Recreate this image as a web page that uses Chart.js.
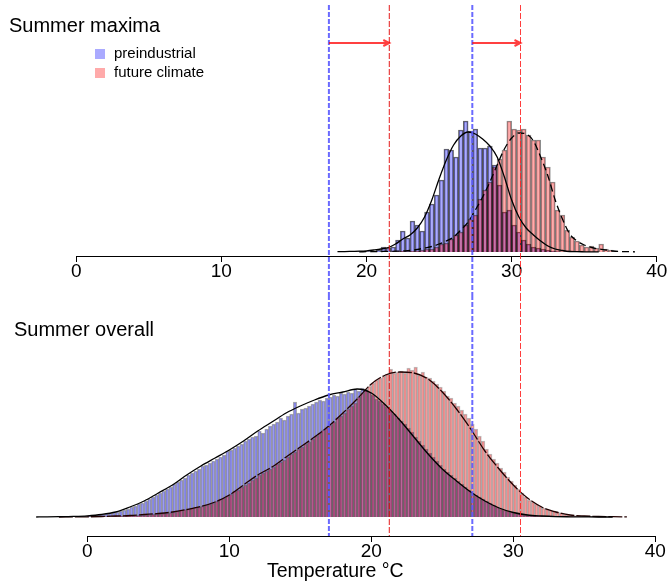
<!DOCTYPE html>
<html>
<head>
<meta charset="utf-8">
<script src="https://cdn.jsdelivr.net/npm/chart.js@4.4.1/dist/chart.umd.min.js"></script>
<style>
  body { margin: 0; background: #fff; }
  #wrap { position: relative; width: 669px; height: 587px; overflow: hidden; font-family: "Liberation Sans", Arial, Helvetica, sans-serif; color: #000; }
  canvas { position: absolute; left: 0; }
  #maxima { top: 0; }
  #overall { top: 295px; }
  .panel-title { position: absolute; font-size: 20px; line-height: 20px; white-space: nowrap; }
  .key { position: absolute; left: 95px; font-size: 15px; line-height: 15px; white-space: nowrap; }
  .key i { display: inline-block; width: 10px; height: 10px; margin-right: 9px; vertical-align: -1px; }
</style>
</head>
<body>
<div id="wrap">
  <canvas id="maxima" width="669" height="295"></canvas>
  <canvas id="overall" width="669" height="292"></canvas>
  <div class="panel-title" style="left:9px;top:15px">Summer maxima</div>
  <div class="panel-title" style="left:14px;top:319px">Summer overall</div>
  <div class="key" style="top:45px"><i style="background:#aaaaff"></i>preindustrial</div>
  <div class="key" style="top:63.5px"><i style="background:#ffaaaa"></i>future climate</div>
</div>
<script>
// --- histogram breaks (°C) ---
const maximaBinStart = 18
const maximaBinWidth = 1 / 3
const overallBinStart = 0
const overallBinWidth = 0.25

// --- summer maxima, bar heights per bin ---
const maximaPre = [
  0, 0, 0.5, 0.7, 0.5, 0.7, 0.3, 0.5, 2, 5,
  4, 5, 12, 21, 14, 31, 27, 21, 40, 48,
  57, 72, 103, 102, 95, 122, 131, 121, 123, 104,
  104, 106, 87, 67, 40, 42, 27, 20, 12, 8,
  5, 4, 3, 2, 1, 0.5, 0, 0, 0, 0,
  0, 0, 0, 0, 0, 0, 0, 0
]
const maximaFuture = [
  0, 0, 0, 0, 0, 0, 0, 0, 0, 0.5,
  0, 0.5, 0.5, 0.7, 0.5, 1, 1, 2, 3, 3,
  5, 8, 9, 13, 17, 20, 27, 33, 37, 53,
  62, 70, 85, 93, 102, 131, 123, 122, 123, 117,
  112, 112, 95, 85, 70, 42, 37, 22, 15, 11,
  7, 5, 6, 4, 8, 3, 2, 1
]

// --- summer overall, bar heights per bin ---
const overallPre = [
  1, 1.5, 2, 2.5, 3, 3.5, 4, 4.5, 5, 6, 7, 8,
  10, 11, 13, 14, 16, 18, 20, 22, 24, 26, 28, 30,
  33, 35, 37, 39, 42, 44, 46, 48, 51, 52, 54, 56,
  58, 60, 62, 66, 67, 69, 71, 73, 76, 78, 80, 81,
  86, 84, 88, 91, 93, 95, 99, 97, 101, 103, 115, 104,
  108, 109, 111, 113, 115, 117, 116, 119, 120, 122, 121, 124,
  123, 125, 124, 128, 126, 129, 127, 125, 122, 118, 116, 113,
  110, 106, 103, 99, 96, 93, 89, 85, 80, 76, 72, 68,
  64, 60, 56, 52, 48, 45, 42, 39, 36, 33, 30, 27,
  24, 22, 20, 18, 16, 14, 12, 10, 8, 7, 6, 5,
  4, 3.5, 3, 2.5, 2, 1.5, 1.2, 1, 0.8, 0.6, 0.5, 0.4,
  0.3, 0.2, 0.2, 0.1, 0.1, 0.1, 0, 0, 0, 0, 0, 0,
  0, 0, 0, 0
]
const overallFuture = [
  0.2, 0.2, 0.3, 0.3, 0.4, 0.5, 0.5, 0.6, 0.8, 0.9, 1, 1.2,
  1.4, 1.5, 1.7, 2, 2.3, 2.5, 2.8, 3, 3.3, 3.6, 4, 4.4,
  5, 6, 7, 7.5, 8, 9, 9.5, 10, 11, 12, 13, 14,
  16, 18, 19, 21, 23, 26, 27, 30, 32, 34, 37, 39,
  42, 44, 46, 48, 50, 53, 55, 57, 60, 63, 65, 68,
  70, 73, 75, 78, 81, 84, 87, 89, 92, 95, 99, 101,
  104, 108, 111, 114, 120, 124, 128, 131, 134, 137, 139, 141,
  143, 148, 144, 145, 146, 144, 149, 147, 150, 142, 145, 140,
  139, 136, 133, 130, 126, 121, 119, 114, 111, 107, 103, 99,
  93, 88, 81, 76, 68, 63, 58, 54, 49, 45, 40, 36,
  32, 28, 24, 20, 17, 15, 13, 11, 9, 8, 7, 6,
  5, 4, 3, 2.5, 2, 1.5, 1.2, 1, 0.8, 0.6, 0.5, 0.4,
  0.3, 0.3, 0.2, 0.2
]

// --- density curves ---
const maximaCurveTemps = [
  18, 18.5, 19, 19.5, 20, 20.5, 21, 21.5, 22, 22.5, 23, 23.5, 24, 24.5,
  25, 25.5, 26, 26.5, 27, 27.5, 28, 28.5, 29, 29.5, 30, 30.5, 31, 31.5,
  32, 32.5, 33, 33.5, 34, 34.5, 35, 35.5, 36, 36.5, 37, 37.5, 38, 38.5
]
const maximaPreCurve = [
  0.3, 0.4, 0.6, 0.8, 1.2, 2, 3, 4.5, 8, 13, 17, 24, 35, 52,
  73, 92, 107, 116, 120, 118, 113, 106, 95, 75, 52, 35, 24, 17,
  11, 6, 3, 1.5, 0.5, 0.3, 0.2, 0.1, 0.1, null, null, null, null, null
]
const maximaFutureCurve = [
  null, null, null, 0.2, 0.3, 0.4, 0.5, 0.6, 0.8, 1.1, 1.5, 2.5, 4, 5.5,
  8, 11, 15, 22, 30, 42, 55, 70, 87, 103, 114, 119, 118, 111,
  95, 76, 52, 33, 18, 11, 7, 4.5, 3, 2, 1, 0.5, 0.3, 0.2
]
const overallCurveTemps = [
  -3.6, -3, -2, -1, 0, 1, 2, 3, 4, 5, 6, 7, 8, 9, 10, 11, 12, 13, 14, 15, 16,
  17, 18, 19, 20, 21, 22, 23, 24, 25, 26, 27, 28, 29, 30, 31, 32, 33, 34, 35, 36, 37, 38
]
const overallPreCurve = [
  0, 0.1, 0.3, 0.6, 1.2, 2.5, 5, 10, 16, 24, 32, 42, 51, 59, 67, 76, 86, 95, 104, 111, 117,
  122, 125, 128, 124, 112, 97, 80, 63, 48, 36, 25, 16, 9, 4.5, 2, 1, 0.4, 0.2, 0.1, 0, 0, null
]
const overallFutureCurve = [
  null, null, 0, 0.1, 0.2, 0.5, 1, 1.5, 2.5, 3.5, 5, 7.5, 10.5, 15, 22, 32, 42, 50, 60, 70, 80,
  91, 104, 118, 133, 142, 145, 144, 138, 125, 108, 88, 66, 48, 32, 19, 10, 5, 2, 1, 0.5, 0.3, 0.1
]

// --- axis and reference lines ---
const tickValues = [0, 10, 20, 30, 40]
const markerTemps = [17.41, 21.57, 27.29, 30.61]
const shiftStarts = [17.41, 27.29]
const shiftEnds = [21.57, 30.61]
const arrowLevel = 209

const markerColours = ['rgba(90,90,255,0.9)', 'rgba(225,0,0,0.9)', 'rgba(90,90,255,0.9)', 'rgba(255,40,40,0.9)']
const markerWidths = [2, 1, 2, 1]

Chart.defaults.font.family = '"Liberation Sans", Arial, Helvetica, sans-serif'
Chart.defaults.color = '#000'

const binPoints = (start, width, heights) =>
  heights.map((h, i) => ({ x: start + (i + 0.5) * width, y: h }))
const curvePoints = (temps, values) =>
  temps.map((t, i) => ({ x: t, y: values[i] })).filter(p => p.y !== null)

const barStyle = {
  type: 'bar',
  grouped: false,
  barPercentage: 1,
  categoryPercentage: 1,
  borderWidth: 1
}
const curveStyle = {
  type: 'line',
  pointRadius: 0,
  borderColor: '#000',
  borderWidth: 1.3,
  fill: false,
  cubicInterpolationMode: 'monotone',
  order: 0
}

const xAxis = (min, max) => ({
  type: 'linear',
  min,
  max,
  offset: false,
  afterBuildTicks: scale => { scale.ticks = tickValues.map(v => ({ value: v })) },
  border: { display: false },
  grid: { offset: false, drawOnChartArea: false, drawTicks: true, tickLength: 6, color: '#000', tickColor: '#000' },
  ticks: { padding: 0, maxRotation: 0, autoSkip: false, font: { size: 19, lineHeight: 1 } }
})

// R-style axis line spanning only the first to last tick
function drawAxisLine(chart) {
  const { ctx, chartArea, scales: { x } } = chart
  const yPix = Math.round(chartArea.bottom) + 0.5
  ctx.save()
  ctx.strokeStyle = '#000'
  ctx.lineWidth = 1
  ctx.beginPath()
  ctx.moveTo(x.getPixelForValue(tickValues[0]), yPix)
  ctx.lineTo(x.getPixelForValue(tickValues[tickValues.length - 1]), yPix)
  ctx.stroke()
  ctx.restore()
}

function drawMarkers(ctx, xScale, top, bottom) {
  markerTemps.forEach((t, i) => {
    const px = xScale.getPixelForValue(t)
    ctx.save()
    ctx.strokeStyle = markerColours[i]
    ctx.lineWidth = markerWidths[i]
    ctx.setLineDash(markerWidths[i] > 1 ? [5, 2] : [6, 2])
    ctx.beginPath()
    ctx.moveTo(px, top)
    ctx.lineTo(px, bottom)
    ctx.stroke()
    ctx.restore()
  })
}

let maximaChart = null

const maximaOverlay = {
  id: 'maximaOverlay',
  afterDraw(chart) {
    const { ctx, chartArea, scales: { x, y } } = chart
    drawAxisLine(chart)
    drawMarkers(ctx, x, chartArea.top, chart.height)
    const yPix = y.getPixelForValue(arrowLevel)
    ctx.save()
    ctx.strokeStyle = 'rgba(255,0,0,0.75)'
    ctx.lineWidth = 2
    shiftStarts.forEach((t, i) => {
      const x0 = x.getPixelForValue(t)
      const x1 = x.getPixelForValue(shiftEnds[i])
      ctx.beginPath()
      ctx.moveTo(x0, yPix)
      ctx.lineTo(x1, yPix)
      ctx.moveTo(x1 - 6, yPix - 3)
      ctx.lineTo(x1, yPix)
      ctx.lineTo(x1 - 6, yPix + 3)
      ctx.stroke()
    })
    ctx.restore()
  }
}

const overallOverlay = {
  id: 'overallOverlay',
  afterDraw(chart) {
    drawAxisLine(chart)
    // reference lines run through both panels, positioned on the maxima axis
    drawMarkers(chart.ctx, maximaChart.scales.x, 0, chart.chartArea.bottom)
  }
}

const baseOptions = {
  responsive: false,
  animation: false,
  events: [],
  plugins: { legend: { display: false }, tooltip: { enabled: false } }
}

maximaChart = new Chart(document.getElementById('maxima'), {
  type: 'bar',
  data: {
    datasets: [
      { ...barStyle, label: 'preindustrial', data: binPoints(maximaBinStart, maximaBinWidth, maximaPre), backgroundColor: 'rgba(0,0,255,0.33)', borderColor: 'rgba(0,0,0,0.6)', order: 3 },
      { ...barStyle, label: 'future climate', data: binPoints(maximaBinStart, maximaBinWidth, maximaFuture), backgroundColor: 'rgba(255,0,0,0.33)', borderColor: 'rgba(0,0,0,0.45)', order: 2 },
      { ...curveStyle, data: curvePoints(maximaCurveTemps, maximaPreCurve) },
      { ...curveStyle, data: curvePoints(maximaCurveTemps, maximaFutureCurve), borderDash: [7, 4] }
    ]
  },
  options: {
    ...baseOptions,
    layout: { padding: { left: 76.2, right: 12.2, top: 5, bottom: 14 } },
    scales: {
      x: xAxis(0, 40),
      y: { display: false, min: -4, max: 247 }
    }
  },
  plugins: [maximaOverlay]
})

new Chart(document.getElementById('overall'), {
  type: 'bar',
  data: {
    datasets: [
      { ...barStyle, label: 'preindustrial', data: binPoints(overallBinStart, overallBinWidth, overallPre), backgroundColor: 'rgba(0,0,255,0.36)', borderColor: 'rgba(0,0,0,0.32)', order: 3 },
      { ...barStyle, label: 'future climate', data: binPoints(overallBinStart, overallBinWidth, overallFuture), backgroundColor: 'rgba(255,0,0,0.36)', borderColor: 'rgba(0,0,0,0.26)', order: 2 },
      { ...curveStyle, data: curvePoints(overallCurveTemps, overallPreCurve) },
      { ...curveStyle, data: curvePoints(overallCurveTemps, overallFutureCurve), borderColor: '#200', borderDash: [14, 2] }
    ]
  },
  options: {
    ...baseOptions,
    layout: { padding: { left: 15.3, right: 13.7, top: 5, bottom: 5.5 } },
    scales: {
      x: {
        ...xAxis(-5.07, 40),
        title: { display: true, text: 'Temperature °C', padding: { top: 1, bottom: 0 }, font: { size: 19.5, lineHeight: 1 } }
      },
      y: { display: false, min: -19, max: 217 }
    }
  },
  plugins: [overallOverlay]
})
</script>
</body>
</html>
